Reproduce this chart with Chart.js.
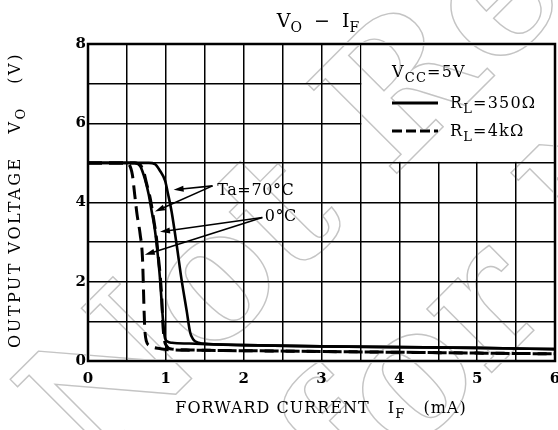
<!DOCTYPE html>
<html>
<head>
<meta charset="utf-8">
<script src="https://cdn.jsdelivr.net/npm/chart.js@4.4.1/dist/chart.umd.min.js"></script>
<style>
    body { margin: 0; background: #ffffff; }
    #grafico { display: block; }
</style>
</head>
<body>
<canvas id="grafico" width="558" height="430"></canvas>
<script>
// dados (IF em mA, VO em V)
const if_350_0 = [0, 0.6, 0.67, 0.73, 0.78, 0.82, 0.86, 0.89, 0.925, 0.955, 0.977, 0.99, 1.02, 1.08, 1.3, 1.6, 2, 3, 4, 5, 6];
const vo_350_0 = [5, 5, 4.92, 4.6, 4.2, 3.76, 3.3, 2.8, 2.08, 1.24, 0.74, 0.57, 0.49, 0.46, 0.44, 0.42, 0.4, 0.37, 0.35, 0.33, 0.3];

const if_350_70 = [0, 0.78, 0.86, 0.925, 0.99, 1.03, 1.075, 1.14, 1.2, 1.27, 1.31, 1.35, 1.42, 1.55, 2, 3, 4, 5, 6];
const vo_350_70 = [5, 5, 4.97, 4.8, 4.55, 4.2, 3.76, 2.92, 2.08, 1.24, 0.74, 0.55, 0.46, 0.43, 0.4, 0.37, 0.35, 0.33, 0.3];

const if_4k_0 = [0, 0.48, 0.53, 0.57, 0.6, 0.63, 0.67, 0.7, 0.71, 0.72, 0.73, 0.75, 0.8, 0.9, 1.0, 1.5, 2, 3, 4, 5, 6];
const vo_4k_0 = [5, 5, 4.95, 4.7, 4.2, 3.7, 3.2, 2.6, 2.0, 1.3, 0.8, 0.5, 0.38, 0.32, 0.29, 0.27, 0.26, 0.24, 0.22, 0.2, 0.18];

const if_4k_70 = [0, 0.6, 0.67, 0.72, 0.75, 0.8, 0.85, 0.88, 0.9, 0.93, 0.95, 0.96, 0.98, 1.01, 1.08, 1.3, 1.5, 2, 3, 4, 5, 6];
const vo_4k_70 = [5, 5, 4.95, 4.75, 4.5, 4.1, 3.5, 3.1, 2.7, 2.1, 1.5, 1.0, 0.55, 0.38, 0.3, 0.28, 0.27, 0.26, 0.24, 0.22, 0.2, 0.18];

const ticks_x = [0, 1, 2, 3, 4, 5, 6];
const ticks_y = [0, 2, 4, 6, 8];

// setas das anotacoes (inicio -> ponta)
const seta_x0 = [1.6, 1.6, 2.24, 2.24];
const seta_y0 = [4.42, 4.42, 3.62, 3.62];
const seta_x1 = [1.1, 0.86, 0.925, 0.73];
const seta_y1 = [4.32, 3.77, 3.26, 2.68];

const fonte = '"DejaVu Serif", serif';

function pontos(xs, ys) {
    var lista = [];
    for (var i = 0; i < xs.length; i++) {
        lista.push({ x: xs[i], y: ys[i] });
    }
    return lista;
}

// escreve texto com partes subscritas: [texto, subscrito, fonte]
function textoSub(ctx, partes, x, y, alinhar) {
    var total = 0;
    for (var i = 0; i < partes.length; i++) {
        ctx.font = partes[i][2];
        total += ctx.measureText(partes[i][0]).width;
    }
    var px = alinhar == 'center' ? x - total / 2 : x;
    for (var j = 0; j < partes.length; j++) {
        ctx.font = partes[j][2];
        ctx.fillText(partes[j][0], px, partes[j][1] ? y + 5 : y);
        px += ctx.measureText(partes[j][0]).width;
    }
}

const desenhos = {
    id: 'desenhos',
    beforeDraw(chart) {
        const ctx = chart.ctx;
        ctx.save();
        ctx.fillStyle = '#ffffff';
        ctx.fillRect(0, 0, chart.width, chart.height);
        ctx.restore();
    },
    beforeDatasetsDraw(chart) {
        const ctx = chart.ctx;
        const x = chart.scales.x, y = chart.scales.y;
        const a = chart.chartArea;
        ctx.save();
        // area da legenda sem grade
        ctx.fillStyle = '#ffffff';
        ctx.fillRect(x.getPixelForValue(3.5) + 1, a.top, a.right - x.getPixelForValue(3.5), y.getPixelForValue(5) - a.top - 1);
        ctx.restore();
    },
    afterDatasetsDraw(chart) {
        const ctx = chart.ctx;
        const x = chart.scales.x, y = chart.scales.y;
        const a = chart.chartArea;
        ctx.save();
        // moldura
        ctx.strokeStyle = '#000';
        ctx.lineWidth = 2.5;
        ctx.strokeRect(a.left, a.top, a.right - a.left, a.bottom - a.top);

        ctx.fillStyle = '#000';
        ctx.textBaseline = 'alphabetic';

        // titulo
        const grande = '19px ' + fonte;
        const pequeno = '14px ' + fonte;
        textoSub(ctx, [['V', false, grande], ['O', true, pequeno], ['  \u2212  ', false, grande], ['I', false, grande], ['F', true, pequeno]], 318, 27, 'center');

        // titulo eixo x
        const normal = '16px ' + fonte;
        const sub = '13px ' + fonte;
        ctx.letterSpacing = '1px';
        textoSub(ctx, [['FORWARD CURRENT   I', false, normal], ['F', true, sub], ['   (mA)', false, normal]], 321, 413, 'center');

        // titulo eixo y
        ctx.save();
        ctx.letterSpacing = '2.5px';
        ctx.translate(20, 200);
        ctx.rotate(-Math.PI / 2);
        textoSub(ctx, [['OUTPUT VOLTAGE   V', false, normal], ['O', true, sub], ['   (V)', false, normal]], 0, 0, 'center');
        ctx.restore();

        // legenda
        ctx.letterSpacing = '1.2px';
        textoSub(ctx, [['V', false, normal], ['CC', true, sub], ['=5V', false, normal]], 392, 77, 'left');
        ctx.lineWidth = 3;
        ctx.beginPath();
        ctx.moveTo(392, 103);
        ctx.lineTo(438, 103);
        ctx.stroke();
        ctx.setLineDash([10, 4]);
        ctx.beginPath();
        ctx.moveTo(392, 131);
        ctx.lineTo(438, 131);
        ctx.stroke();
        ctx.setLineDash([]);
        textoSub(ctx, [['R', false, normal], ['L', true, sub], ['=350\u03a9', false, normal]], 450, 108, 'left');
        textoSub(ctx, [['R', false, normal], ['L', true, sub], ['=4k\u03a9', false, normal]], 450, 136, 'left');

        // anotacoes
        ctx.letterSpacing = '0.6px';
        ctx.font = normal;
        ctx.textBaseline = 'middle';
        ctx.fillText('Ta=70\u00b0C', x.getPixelForValue(1.66), y.getPixelForValue(4.3));
        ctx.fillText('0\u00b0C', x.getPixelForValue(2.27), y.getPixelForValue(3.63));
        ctx.letterSpacing = '0px';

        ctx.lineWidth = 1.6;
        for (var i = 0; i < seta_x0.length; i++) {
            var x0 = x.getPixelForValue(seta_x0[i]), y0 = y.getPixelForValue(seta_y0[i]);
            var x1 = x.getPixelForValue(seta_x1[i]), y1 = y.getPixelForValue(seta_y1[i]);
            var ang = Math.atan2(y1 - y0, x1 - x0);
            ctx.beginPath();
            ctx.moveTo(x0, y0);
            ctx.lineTo(x1 - 8 * Math.cos(ang), y1 - 8 * Math.sin(ang));
            ctx.stroke();
            ctx.beginPath();
            ctx.moveTo(x1, y1);
            ctx.lineTo(x1 - 10 * Math.cos(ang) + 3 * Math.sin(ang), y1 - 10 * Math.sin(ang) - 3 * Math.cos(ang));
            ctx.lineTo(x1 - 10 * Math.cos(ang) - 3 * Math.sin(ang), y1 - 10 * Math.sin(ang) + 3 * Math.cos(ang));
            ctx.closePath();
            ctx.fill();
        }
        ctx.restore();
    },
    afterDraw(chart) {
        // marca d'agua em contorno cinza (fica por baixo das linhas pretas)
        const ctx = chart.ctx;
        ctx.save();
        ctx.globalCompositeOperation = 'darken';
        ctx.strokeStyle = '#c4c4c4';
        ctx.lineWidth = 1.4;
        ctx.font = 'bold 175px ' + fonte;
        ctx.translate(95, 475);
        ctx.rotate(-45 * Math.PI / 180);
        ctx.strokeText('Not Recommended', 0, 0);
        ctx.strokeText('for New Design', 155, 208);
        ctx.restore();
    }
};

function criarGrafico() {
    const ctx = document.getElementById('grafico');

    const estilo = {
        borderColor: '#000',
        pointRadius: 0,
        fill: false,
        cubicInterpolationMode: 'monotone'
    };

    new Chart(ctx, {
        type: 'line',
        data: {
            datasets: [
                Object.assign({ label: 'RL=350Ω 0°C', data: pontos(if_350_0, vo_350_0), borderWidth: 2.6 }, estilo),
                Object.assign({ label: 'RL=350Ω 70°C', data: pontos(if_350_70, vo_350_70), borderWidth: 2.6 }, estilo),
                Object.assign({ label: 'RL=4kΩ 0°C', data: pontos(if_4k_0, vo_4k_0), borderWidth: 3, borderDash: [14, 7] }, estilo),
                Object.assign({ label: 'RL=4kΩ 70°C', data: pontos(if_4k_70, vo_4k_70), borderWidth: 3, borderDash: [14, 7] }, estilo)
            ]
        },
        options: {
            responsive: false,
            animation: false,
            layout: {
                padding: { left: 0, right: 3, top: 44, bottom: 39 }
            },
            scales: {
                x: {
                    type: 'linear',
                    min: 0,
                    max: 6,
                    afterFit: function (s) { s.height = 30; s.paddingLeft = 0; s.paddingRight = 0; },
                    afterBuildTicks: function (s) {
                        var t = [];
                        for (var v = 0; v <= 6; v += 0.5) t.push({ value: v });
                        s.ticks = t;
                    },
                    ticks: {
                        autoSkip: false,
                        maxRotation: 0,
                        padding: 9,
                        color: '#000',
                        font: { family: fonte, size: 15, weight: 'bold' },
                        callback: function (v) { return ticks_x.indexOf(v) >= 0 ? String(v) : ''; }
                    },
                    grid: { color: '#000', lineWidth: 1.5, drawTicks: false },
                    border: { display: false }
                },
                y: {
                    min: 0,
                    max: 8,
                    afterFit: function (s) { s.width = 88; s.paddingTop = 0; s.paddingBottom = 0; },
                    afterBuildTicks: function (s) {
                        var t = [];
                        for (var v = 0; v <= 8; v += 1) t.push({ value: v });
                        s.ticks = t;
                    },
                    ticks: {
                        autoSkip: false,
                        padding: 2,
                        color: '#000',
                        font: { family: fonte, size: 15, weight: 'bold' },
                        callback: function (v) { return ticks_y.indexOf(v) >= 0 ? String(v) : ''; }
                    },
                    grid: { color: '#000', lineWidth: 1.5, drawTicks: false },
                    border: { display: false }
                }
            },
            plugins: {
                legend: { display: false },
                tooltip: { enabled: false }
            }
        },
        plugins: [desenhos]
    });
}

criarGrafico();
</script>
</body>
</html>
